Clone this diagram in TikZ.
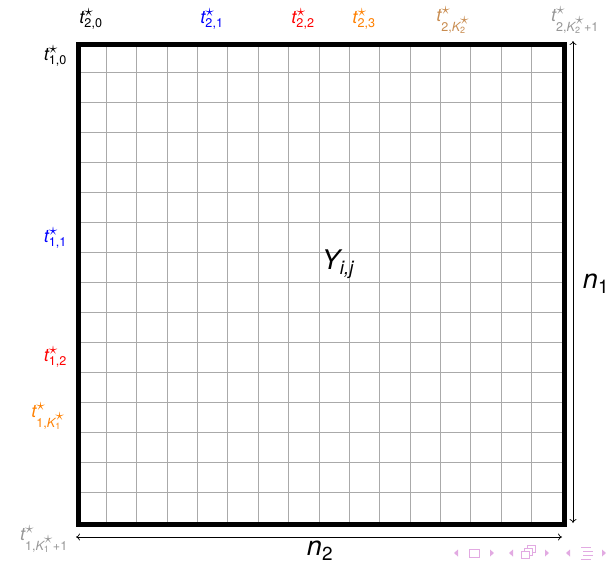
\documentclass[tikz,border=0pt]{standalone}
\usepackage{amsmath}
\usepackage{fontspec}
\setmainfont{TeX Gyre Heros}
\usetikzlibrary{arrows.meta}
\definecolor{lblue}{RGB}{0,0,255}
\definecolor{lred}{RGB}{255,0,0}
\definecolor{lorange}{RGB}{255,128,0}
\definecolor{lbrown}{RGB}{200,140,80}
\definecolor{lgray}{RGB}{150,150,150}
\definecolor{gridc}{RGB}{170,170,170}
\definecolor{navc}{RGB}{226,170,226}
\newcommand\bstar{\scalebox{1.45}{$\scriptstyle\star$}}
\newcommand\tsub[1]{$\textit{t}^{\bstar}_{#1}$}
\tikzset{
  gridline/.style={draw=gridc, line width=0.9pt},
  lab/.style={inner sep=0pt, font=\fontsize{18}{20}\selectfont},
  big/.style={inner sep=0pt, font=\fontsize{27}{30}\selectfont},
  dim/.style={{To[length=4pt,width=7pt]}-{To[length=4pt,width=7pt]}, line width=0.7pt},
  nav/.style={fill=navc, draw=none},
  navd/.style={draw=navc, line width=0.9pt, fill=white},
}
\begin{document}
\begin{tikzpicture}[x=1pt,y=-1pt]
\useasboundingbox (0,0) rectangle (607,565);
% grid
\foreach \i in {1,...,15} {
  \draw[gridline] ({76+\i*30.375},42) -- ({76+\i*30.375},522);
  \draw[gridline] (76,{42+\i*30}) -- (562,{42+\i*30});
}
\node[draw, line width=4.5pt, minimum width=486pt, minimum height=480pt, inner sep=0pt, anchor=north west] (M) at (76,42) {};
% top labels
\node[lab] (a0) at (91,19) {\tsub{\text{2,0}}};
\node[lab, text=lblue] (a1) at (212,19) {\tsub{\text{2,1}}};
\node[lab, text=lred] (a2) at (303,19) {\tsub{\text{2,2}}};
\node[lab, text=lorange] (a3) at (364,19) {\tsub{\text{2,3}}};
\node[lab, text=lbrown] (a4) at (453,20) {\tsub{\text{2,}\textit{K}^{\bstar}_{\text{2}}}};
\node[lab, text=lgray] (a5) at (575,20) {\tsub{\text{2,}\textit{K}^{\bstar}_{\text{2}}\text{+1}}};
% left labels
\node[lab, anchor=east] (b0) at (67,56) {\tsub{\text{1,0}}};
\node[lab, text=lblue, anchor=east] (b1) at (67,238) {\tsub{\text{1,1}}};
\node[lab, text=lred, anchor=east] (b2) at (67,357) {\tsub{\text{1,2}}};
\node[lab, text=lorange, anchor=east] (b3) at (65,416) {\tsub{\text{1,}\textit{K}^{\bstar}_{\text{1}}}};
\node[lab, text=lgray, anchor=east] (b4) at (68,539) {\tsub{\text{1,}\textit{K}^{\bstar}_{\text{1}}\text{+1}}};
% center
\node[big] (Y) at (338,264) {$\textit{Y}_{\textit{i,j}}$};
% dimension arrows
\coordinate (v1) at (573,41);
\coordinate (v2) at (573,523);
\draw[dim] (v1) -- (v2);
\node[big] (n1) at (596,284) {$\textit{n}_{\text{1}}$};
\coordinate (h1) at (76,537);
\coordinate (h2) at (562,537);
\draw[dim] (h1) -- (h2);
\node[big] (n2) at (320,551) {$\textit{n}_{\text{2}}$};
% navigation symbols
\foreach \x in {458,513,570} \fill[nav] (\x,549.5) -- (\x,556.5) -- (\x-4,553) -- cycle;
\foreach \x in {490,545,602} \fill[nav] (\x,549.5) -- (\x,556.5) -- (\x+4,553) -- cycle;
\draw[navd] (469,549) rectangle (479,557);
\draw[navd] (527,545) rectangle (535,552);
\draw[navd] (524,548) rectangle (532,555);
\draw[navd] (521,551) rectangle (529,558);
\draw[navc, line width=1pt] (581,547) -- (591,547) (583,551) -- (593,551) (583,555) -- (593,555) (581,559) -- (591,559);
\end{tikzpicture}
\end{document}
